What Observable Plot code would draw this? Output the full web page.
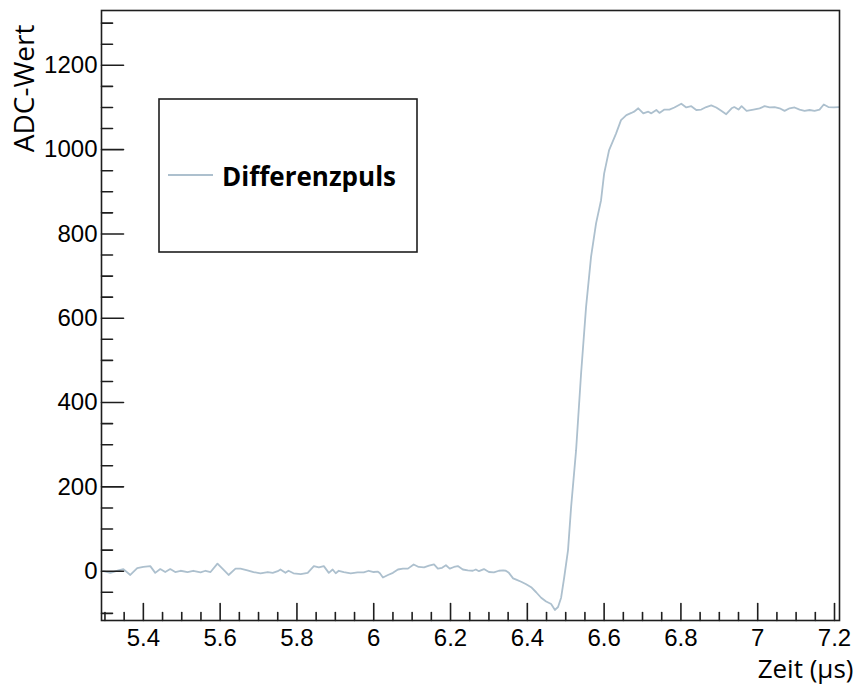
<!DOCTYPE html>
<html>
<head>
<meta charset="utf-8">
<script src="https://cdn.jsdelivr.net/npm/d3@7"></script>
<script src="https://cdn.jsdelivr.net/npm/@observablehq/plot@0.6"></script>
<style>
  html, body { margin: 0; padding: 0; background: #fff; }
</style>
</head>
<body>
<div id="chart"></div>
<script>
// Time (µs) of each sample
const time = [
  5.296, 5.314, 5.335, 5.348, 5.366, 5.384, 5.400, 5.418, 5.431, 5.444,
  5.457, 5.470, 5.483, 5.497, 5.515, 5.530, 5.549, 5.562, 5.575, 5.593,
  5.606, 5.622, 5.640, 5.653, 5.671, 5.687, 5.705, 5.724, 5.737, 5.750,
  5.757, 5.770, 5.778, 5.791, 5.810, 5.828, 5.844, 5.857, 5.870, 5.883,
  5.893, 5.901, 5.909, 5.922, 5.940, 5.958, 5.974, 5.987, 6.000, 6.011,
  6.016, 6.024, 6.037, 6.050, 6.063, 6.076, 6.089, 6.104, 6.117, 6.131,
  6.144, 6.157, 6.167, 6.178, 6.188, 6.198, 6.209, 6.219, 6.232, 6.245,
  6.258, 6.266, 6.274, 6.287, 6.300, 6.313, 6.326, 6.337, 6.344, 6.352,
  6.363, 6.371, 6.384, 6.397, 6.410, 6.423, 6.436, 6.449, 6.462, 6.472,
  6.480, 6.488, 6.496, 6.506, 6.514, 6.527, 6.540, 6.553, 6.566, 6.579,
  6.592, 6.600, 6.613, 6.631, 6.644, 6.658, 6.671, 6.678, 6.689, 6.702,
  6.715, 6.723, 6.736, 6.744, 6.757, 6.770, 6.783, 6.801, 6.814, 6.827,
  6.840, 6.853, 6.866, 6.879, 6.892, 6.905, 6.918, 6.932, 6.939, 6.950,
  6.958, 6.971, 6.989, 7.005, 7.018, 7.031, 7.044, 7.057, 7.070, 7.083,
  7.096, 7.109, 7.122, 7.135, 7.148, 7.161, 7.172, 7.184, 7.198, 7.211
];
// ADC value of each sample (Differenzpuls)
const adc = [
  0, -4, 2, 5, -9, 7, 10, 12, -4, 5,
  -2, 5, -2, 1, -2, 1, -3, 1, -2, 18,
  6, -9, 6, 6, 2, -2, -5, -2, -4, 0,
  4, -4, 1, -5, -7, -4, 12, 9, 12, -4,
  4, -5, 1, -2, -5, -3, -3, 1, -2, -1,
  -5, -15, -9, -4, 4, 6, 6, 16, 10, 9,
  13, 16, 6, 8, 14, 6, 10, 12, 4, 2,
  1, 4, 0, 5, -2, -3, 1, 2, 1, -4,
  -17, -20, -25, -31, -38, -50, -63, -72, -78, -92,
  -85, -63, -15, 50, 152, 287, 469, 627, 746, 825,
  880, 943, 999, 1038, 1070, 1082, 1087, 1090, 1098, 1086,
  1090, 1086, 1094, 1087, 1095, 1095, 1100, 1109, 1100, 1103,
  1094, 1095, 1101, 1105, 1100, 1092, 1084, 1098, 1101, 1095,
  1103, 1092, 1095, 1098, 1103, 1100, 1101, 1098, 1092, 1098,
  1100, 1095, 1092, 1094, 1092, 1095, 1107, 1101, 1100, 1101
];

const xTicks = [5.4, 5.6, 5.8, 6.0, 6.2, 6.4, 6.6, 6.8, 7.0, 7.2];
const xTickLabels = ["5.4", "5.6", "5.8", "6", "6.2", "6.4", "6.6", "6.8", "7", "7.2"];
const xMinorTicks = [5.3, 5.35, 5.45, 5.5, 5.55, 5.65, 5.7, 5.75, 5.85, 5.9, 5.95,
  6.05, 6.1, 6.15, 6.25, 6.3, 6.35, 6.45, 6.5, 6.55, 6.65, 6.7, 6.75,
  6.85, 6.9, 6.95, 7.05, 7.1, 7.15];
const yTicks = [0, 200, 400, 600, 800, 1000, 1200];
const yTickLabels = ["0", "200", "400", "600", "800", "1000", "1200"];
const yMinorTicks = [-100, -50, 50, 100, 150, 250, 300, 350, 450, 500, 550, 650, 700, 750,
  850, 900, 950, 1050, 1100, 1150, 1250, 1300];

const seriesName = "Differenzpuls";
const xTitle = "Zeit (µs)";
const yTitle = "ADC-Wert";

const data = time.map((t, i) => ({t, v: adc[i]}));
const lineColor = "#adc0ce";
const axisColor = "#1e1e1e";

const tickShape = {draw(context, l) { context.moveTo(0, 0); context.lineTo(0, -l); }};
const xLab = new Map(xTicks.map((v, i) => [v, xTickLabels[i]]));
const yLab = new Map(yTicks.map((v, i) => [v, yTickLabels[i]]));

const W = 857, H = 686;
const plot = Plot.plot({
  width: W,
  height: H,
  marginTop: 10,
  marginBottom: 66,
  marginLeft: 101,
  marginRight: 18,
  style: {fontFamily: "'Liberation Sans', Arial, sans-serif", fontSize: "24px", background: "#fff", color: "#000"},
  x: {domain: [5.291, 7.213]},
  y: {domain: [-117, 1330]},
  marks: [
    Plot.line(data, {x: "t", y: "v", stroke: lineColor, strokeWidth: 1.8}),
    Plot.frame({stroke: axisColor, strokeWidth: 1.6}),
    Plot.vectorX(xTicks, {x: d => d, frameAnchor: "bottom", length: 17, rotate: 0, anchor: "start", shape: tickShape, stroke: axisColor, strokeWidth: 1.6}),
    Plot.vectorX(xMinorTicks, {x: d => d, frameAnchor: "bottom", length: 8, rotate: 0, anchor: "start", shape: tickShape, stroke: axisColor, strokeWidth: 1.6}),
    Plot.vectorY(yTicks, {y: d => d, frameAnchor: "left", length: 22, rotate: 90, anchor: "start", shape: tickShape, stroke: axisColor, strokeWidth: 1.6}),
    Plot.vectorY(yMinorTicks, {y: d => d, frameAnchor: "left", length: 11, rotate: 90, anchor: "start", shape: tickShape, stroke: axisColor, strokeWidth: 1.6}),
    Plot.axisX({ticks: xTicks, tickSize: 0, tickPadding: 8, tickFormat: d => xLab.get(d), label: null, fontSize: 24}),
    Plot.axisY({ticks: yTicks, tickSize: 0, tickPadding: 4, tickFormat: d => yLab.get(d), label: null, fontSize: 24}),
    Plot.text([yTitle], {text: d => d, frameAnchor: "top-left", rotate: -90, textAnchor: "end", lineAnchor: "bottom",
      dx: 33 - 101, dy: 24 - 10, fontSize: 28, fontFamily: "'Open Sans', sans-serif", fill: "#000"}),
    Plot.text([xTitle], {text: d => d, frameAnchor: "bottom-right", textAnchor: "end", lineAnchor: "bottom",
      dx: 853 - 839, dy: 677 - 620, fontSize: 26, fontFamily: "'Open Sans', sans-serif", fill: "#000"})
  ]
});

// Legend box
const svg = d3.select(plot);
const lg = svg.append("g").attr("class", "legend");
lg.append("rect").attr("x", 159).attr("y", 99).attr("width", 258).attr("height", 153)
  .attr("fill", "#fff").attr("stroke", axisColor).attr("stroke-width", 1.6);
lg.append("line").attr("x1", 168).attr("x2", 213).attr("y1", 175).attr("y2", 175)
  .attr("stroke", lineColor).attr("stroke-width", 1.8);
lg.append("text").attr("x", 222).attr("y", 186).attr("text-anchor", "start").text(seriesName)
  .attr("font-family", "'Open Sans', sans-serif").attr("font-weight", "bold")
  .attr("font-size", 26).attr("fill", "#000");

document.getElementById("chart").appendChild(plot);
</script>
</body>
</html>
